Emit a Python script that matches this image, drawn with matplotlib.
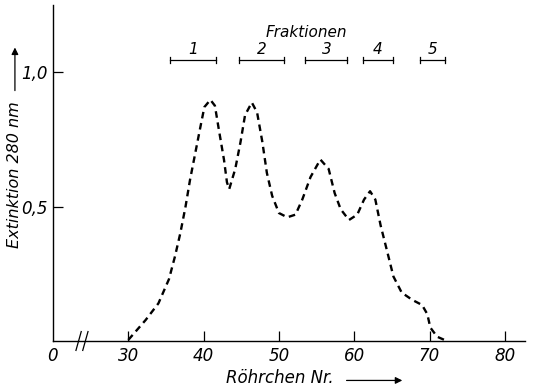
import matplotlib.pyplot as plt
from matplotlib.patches import FancyArrowPatch

# Elutionsprofil (Roehrchen Nr., Extinktion 280 nm)
tube = [30.0, 32.3, 34.0, 35.4, 36.2, 36.9, 37.6, 38.2, 38.9, 39.6, 40.1, 40.9,
        41.5, 42.0, 42.7, 43.1, 43.4, 44.2, 44.9, 45.5, 46.4, 47.1, 47.8, 48.4,
        49.1, 50.0, 51.1, 52.2, 53.1, 54.2, 55.5, 56.6, 57.4, 58.2, 59.3, 60.4,
        61.3, 62.1, 62.8, 63.5, 64.4, 65.2, 66.3, 67.7, 69.0, 69.7, 70.1, 71.0, 72.3]
ext = [0.004, 0.078, 0.14, 0.23, 0.315, 0.40, 0.50, 0.60, 0.70, 0.80, 0.87, 0.897,
       0.875, 0.79, 0.675, 0.59, 0.565, 0.64, 0.74, 0.84, 0.887, 0.85, 0.74, 0.625,
       0.54, 0.476, 0.46, 0.47, 0.526, 0.61, 0.675, 0.64, 0.55, 0.49, 0.45, 0.47,
       0.526, 0.557, 0.526, 0.43, 0.33, 0.24, 0.18, 0.153, 0.134, 0.10, 0.05, 0.016, 0.0]

# Fraktionen
frac_labels = ["1", "2", "3", "4", "5"]
frac_start = [35.6, 44.7, 53.5, 61.1, 68.7]
frac_end = [41.6, 50.7, 59.1, 65.2, 72.1]
frac_level = 1.045

xticks = [30, 40, 50, 60, 70, 80]
yticks = [0.5, 1.0]
ytick_labels = ["0,5", "1,0"]

font = dict(family="DejaVu Sans", style="italic")

fig = plt.figure(figsize=(5.33, 3.89), dpi=100)
ax = fig.add_axes([0.0994, 0.1234, 0.886, 0.864])

ax.plot(tube, ext, color="black", lw=1.7, ls=(0, (2.8, 2.0)),
        dash_joinstyle="round", dash_capstyle="butt")

# Fraktionsbalken
for lab, s, e in zip(frac_labels, frac_start, frac_end):
    ax.plot([s, e], [frac_level, frac_level], color="black", lw=0.9)
    ax.plot([s, s], [frac_level - 0.012, frac_level + 0.012], color="black", lw=0.9)
    ax.plot([e, e], [frac_level - 0.012, frac_level + 0.012], color="black", lw=0.9)
    ax.text((s + e) / 2, frac_level + 0.012, lab, ha="center", va="bottom",
            fontsize=11, **font)
ax.text(53.6, 1.12, "Fraktionen", ha="center", va="bottom", fontsize=11, **font)

ax.set_xlim(20, 82.7)
ax.set_ylim(0, 1.25)
for side in ["top", "right"]:
    ax.spines[side].set_visible(False)
ax.spines["left"].set_linewidth(1.0)
ax.spines["bottom"].set_linewidth(1.0)

ax.set_xticks([20] + xticks)
ax.set_xticklabels(["0"] + [str(t) for t in xticks], fontsize=12, **font)
ax.set_yticks(yticks)
ax.set_yticklabels(ytick_labels, fontsize=12, **font)
ax.tick_params(axis="both", direction="in", length=7, width=0.9, pad=4)
ax.xaxis.get_major_ticks()[0].tick1line.set_visible(False)

# Achsenunterbrechung
for xb in [23.4, 24.3]:
    ax.plot([xb - 0.35, xb + 0.35], [-0.035, 0.035], color="black", lw=0.9,
            clip_on=False)

# Achsenbeschriftungen mit Pfeilen
fig.text(0.028, 0.55, "Extinktion 280 nm", rotation=90, ha="center",
         va="center", fontsize=11.5, **font)
fig.patches.append(FancyArrowPatch(
    (0.028, 0.76), (0.028, 0.885), transform=fig.transFigure,
    arrowstyle="-|>", mutation_scale=10, color="black", lw=0.9))
fig.text(0.525, 0.028, "Röhrchen Nr.", ha="center", va="center",
         fontsize=12, **font)
fig.patches.append(FancyArrowPatch(
    (0.645, 0.022), (0.76, 0.022), transform=fig.transFigure,
    arrowstyle="-|>", mutation_scale=10, color="black", lw=0.9))

fig.savefig("out.png", dpi=100)
